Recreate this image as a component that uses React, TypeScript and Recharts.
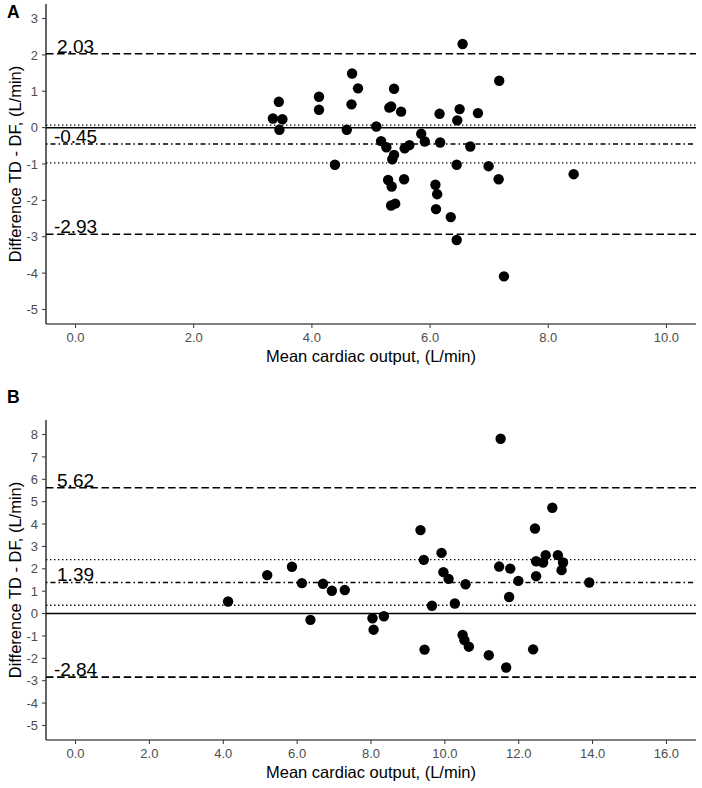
import React from 'react';
import { ScatterChart, Scatter, XAxis, YAxis, ReferenceLine, ReferenceDot } from 'recharts';

// Panel A data
const aMean = [3.44, 3.34, 3.50, 3.45, 4.12, 4.12, 4.39, 4.68, 4.78, 4.67, 4.59, 5.39, 5.31, 5.34, 5.51, 5.09, 5.17, 5.26, 5.39, 5.36, 5.57, 5.65, 5.56, 5.29, 5.35, 5.34, 5.41, 5.85, 5.91, 6.16, 6.17, 6.09, 6.12, 6.10, 6.35, 6.45, 6.50, 6.46, 6.55, 6.45, 6.68, 6.81, 7.17, 6.99, 7.16, 7.25, 8.43];
const aDiff = [0.71, 0.25, 0.23, -0.06, 0.85, 0.49, -1.02, 1.49, 1.08, 0.64, -0.06, 1.07, 0.55, 0.58, 0.44, 0.03, -0.37, -0.54, -0.75, -0.87, -0.57, -0.48, -1.42, -1.44, -1.62, -2.14, -2.09, -0.17, -0.38, 0.38, -0.41, -1.57, -1.83, -2.24, -2.46, -3.09, 0.51, 0.20, 2.30, -1.02, -0.52, 0.40, 1.29, -1.06, -1.42, -4.09, -1.28];
const aBias = -0.45;
const aUpper = 2.03;
const aLower = -2.93;
const aCiHigh = 0.07;
const aCiLow = -0.97;
const aXTicks = [0, 2, 4, 6, 8, 10];
const aYTicks = [-5, -4, -3, -2, -1, 0, 1, 2, 3];

// Panel B data
const bMean = [4.13, 5.19, 5.86, 6.13, 6.36, 6.70, 6.94, 7.29, 8.04, 8.07, 8.35, 9.34, 9.43, 9.45, 9.65, 9.91, 9.96, 10.10, 10.27, 10.56, 10.48, 10.53, 10.65, 11.19, 11.47, 11.51, 11.66, 11.77, 11.74, 11.99, 12.39, 12.44, 12.47, 12.47, 12.66, 12.73, 12.91, 13.06, 13.20, 13.16, 13.91];
const bDiff = [0.54, 1.72, 2.09, 1.36, -0.28, 1.33, 1.02, 1.05, -0.21, -0.72, -0.12, 3.73, 2.40, -1.61, 0.35, 2.71, 1.85, 1.55, 0.45, 1.31, -0.96, -1.19, -1.48, -1.86, 2.10, 7.81, -2.41, 2.01, 0.74, 1.46, -1.60, 3.80, 2.34, 1.67, 2.28, 2.61, 4.73, 2.61, 2.28, 1.94, 1.39];
const bBias = 1.39;
const bUpper = 5.62;
const bLower = -2.84;
const bCiHigh = 2.41;
const bCiLow = 0.37;
const bXTicks = [0, 2, 4, 6, 8, 10, 12, 14, 16];
const bYTicks = [-5, -4, -3, -2, -1, 0, 1, 2, 3, 4, 5, 6, 7, 8];

const xTitle = 'Mean cardiac output, (L/min)';
const yTitle = 'Difference TD - DF, (L/min)';

const FONT = '"Liberation Sans", Arial, Helvetica, sans-serif';

const dot = (props: any) => <circle cx={props.cx} cy={props.cy} r={5.2} fill="#000" />;

const limitLabel = (text: string) => (props: any) => {
  const vb = props.viewBox || {};
  return (
    <text x={vb.x} y={vb.y - 1} textAnchor="middle" fontSize={19} fill="#000" fontFamily={FONT}>
      {text}
    </text>
  );
};

type PanelProps = {
  mean: number[];
  diff: number[];
  bias: number;
  upper: number;
  lower: number;
  ciHigh: number;
  ciLow: number;
  xDomain: [number, number];
  yDomain: [number, number];
  xTicks: number[];
  yTicks: number[];
  height: number;
  margin: { top: number; right: number; bottom: number; left: number };
};

function Panel(p: PanelProps) {
  const data = p.mean.map((m, i) => ({ x: m, y: p.diff[i] }));
  return (
    <ScatterChart width={702} height={p.height} margin={p.margin}>
      <XAxis
        type="number"
        dataKey="x"
        domain={p.xDomain}
        ticks={p.xTicks}
        allowDataOverflow
        tickFormatter={(v: number) => v.toFixed(1)}
        tick={{ fontSize: 13, fill: '#4d4d4d', fontFamily: FONT }}
        tickSize={4}
        tickMargin={5}
        height={40}
        axisLine={{ stroke: '#000', strokeWidth: 1.2 }}
        tickLine={{ stroke: '#333', strokeWidth: 1 }}
      />
      <YAxis
        type="number"
        dataKey="y"
        domain={p.yDomain}
        ticks={p.yTicks}
        allowDataOverflow
        tick={{ fontSize: 13, fill: '#4d4d4d', fontFamily: FONT }}
        tickSize={4}
        tickMargin={4}
        width={46}
        axisLine={{ stroke: '#000', strokeWidth: 1.2 }}
        tickLine={{ stroke: '#333', strokeWidth: 1 }}
      />
      <ReferenceLine y={0} stroke="#000" strokeWidth={1.5} />
      <ReferenceLine y={p.ciHigh} stroke="#000" strokeWidth={1.4} strokeDasharray="1.4 2.6" />
      <ReferenceLine y={p.ciLow} stroke="#000" strokeWidth={1.4} strokeDasharray="1.4 2.6" />
      <ReferenceLine y={p.bias} stroke="#000" strokeWidth={1.4} strokeDasharray="1.5 3 5 3" />
      <ReferenceLine y={p.upper} stroke="#000" strokeWidth={1.6} strokeDasharray="7.5 3.6" />
      <ReferenceLine y={p.lower} stroke="#000" strokeWidth={1.6} strokeDasharray="7.5 3.6" />
      <Scatter data={data} shape={dot} isAnimationActive={false} />
      <ReferenceDot x={0} y={p.upper} r={0} stroke="none" fill="none" label={limitLabel(p.upper.toFixed(2))} />
      <ReferenceDot x={0} y={p.bias} r={0} stroke="none" fill="none" label={limitLabel(p.bias.toFixed(2))} />
      <ReferenceDot x={0} y={p.lower} r={0} stroke="none" fill="none" label={limitLabel(p.lower.toFixed(2))} />
    </ScatterChart>
  );
}

export default function App() {
  return (
    <div style={{ position: 'absolute', left: 0, top: 0, width: 702, height: 788, background: '#fff', fontFamily: FONT }}>
      <div style={{ position: 'absolute', left: 0, top: 0 }}>
        <Panel
          mean={aMean}
          diff={aDiff}
          bias={aBias}
          upper={aUpper}
          lower={aLower}
          ciHigh={aCiHigh}
          ciLow={aCiLow}
          xDomain={[-0.5, 10.5]}
          yDomain={[-5.4, 3.4]}
          xTicks={aXTicks}
          yTicks={aYTicks}
          height={390}
          margin={{ top: 4, right: 6, bottom: 26, left: 0 }}
        />
      </div>
      <div style={{ position: 'absolute', left: 0, top: 390 }}>
        <Panel
          mean={bMean}
          diff={bDiff}
          bias={bBias}
          upper={bUpper}
          lower={bLower}
          ciHigh={bCiHigh}
          ciLow={bCiLow}
          xDomain={[-0.8, 16.8]}
          yDomain={[-5.65, 8.65]}
          xTicks={bXTicks}
          yTicks={bYTicks}
          height={398}
          margin={{ top: 30, right: 6, bottom: 8, left: 0 }}
        />
      </div>
      <svg width={702} height={788} style={{ position: 'absolute', left: 0, top: 0, pointerEvents: 'none' }}>
        <text x={7} y={18} fontSize={17.5} fontWeight="bold" fill="#000" fontFamily={FONT}>A</text>
        <text x={7} y={403} fontSize={17.5} fontWeight="bold" fill="#000" fontFamily={FONT}>B</text>
        <text x={371} y={361.5} fontSize={16.5} textAnchor="middle" fill="#000" fontFamily={FONT}>{xTitle}</text>
        <text x={371} y={777.5} fontSize={16.5} textAnchor="middle" fill="#000" fontFamily={FONT}>{xTitle}</text>
        <text x={20.5} y={164} fontSize={16.5} textAnchor="middle" fill="#000" fontFamily={FONT} transform="rotate(-90 20.5 164)">{yTitle}</text>
        <text x={20.5} y={580} fontSize={16.5} textAnchor="middle" fill="#000" fontFamily={FONT} transform="rotate(-90 20.5 580)">{yTitle}</text>
      </svg>
    </div>
  );
}
